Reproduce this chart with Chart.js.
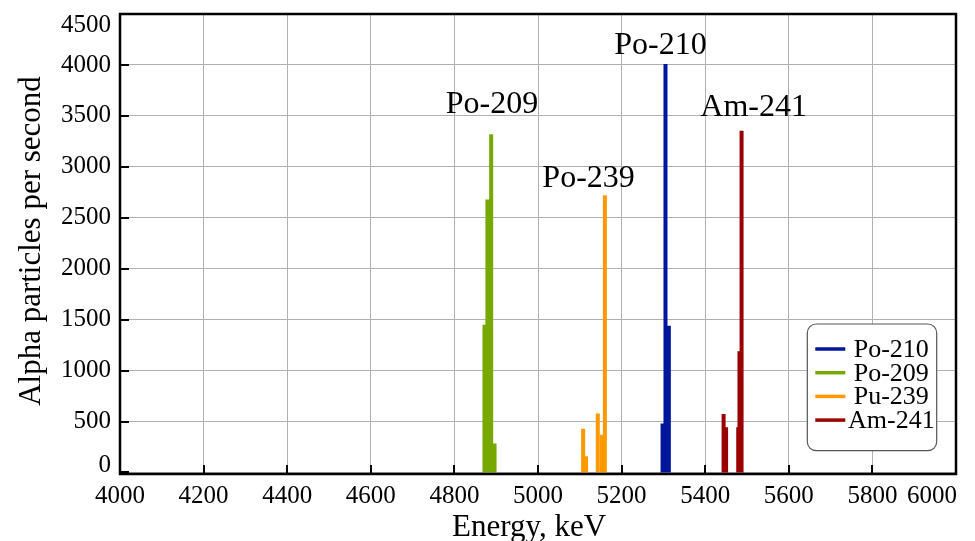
<!DOCTYPE html>
<html>
<head>
<meta charset="utf-8">
<script src="https://cdn.jsdelivr.net/npm/chart.js"></script>
<style>
  html, body { margin: 0; padding: 0; background: #fff; }
  #wrap { width: 975px; height: 541px; position: relative; }
</style>
</head>
<body>
<div id="wrap"><canvas id="spectrum" width="975" height="541"></canvas></div>
<script>
// Alpha spectrum
const energyTicks = [4000, 4200, 4400, 4600, 4800, 5000, 5200, 5400, 5600, 5800, 6000];
const rateTicks = [0, 500, 1000, 1500, 2000, 2500, 3000, 3500, 4000, 4500];

const isotopes = ['Po-210', 'Po-209', 'Pu-239', 'Am-241'];
const po210Energy = [5298, 5305, 5313];
const po210Rate = [480, 4010, 1440];
const po209Energy = [4872, 4879, 4888, 4896];
const po209Rate = [1450, 2680, 3320, 285];
const pu239Energy = [5108, 5115, 5143, 5153, 5160];
const pu239Rate = [430, 160, 580, 370, 2720];
const am241Energy = [5444, 5450, 5479, 5482, 5487];
const am241Rate = [575, 445, 445, 1190, 3355];

// peak annotations (data coords)
const peakLabels = ['Po-209', 'Po-239', 'Po-210', 'Am-241'];
const peakLabelEnergy = [4890, 5121, 5293, 5516];
const peakLabelRate = [3615, 2889, 4193, 3585];

const colors = ['#00169b', '#76a800', '#ff9900', '#990000'];
const SERIF = '"Liberation Serif", "Times New Roman", serif';

// each peak is a vertical stroke from 0 up to its rate
function stems(energy, rate) {
    const pts = [];
    energy.forEach((e, i) => {
        pts.push({ x: e, y: 0 }, { x: e, y: rate[i] }, { x: e, y: null });
    });
    return pts;
}

const series = [
    stems(po210Energy, po210Rate),
    stems(po209Energy, po209Rate),
    stems(pu239Energy, pu239Rate),
    stems(am241Energy, am241Rate)
];

const decor = {
    id: 'decor',
    afterDatasetsDraw(chart) {
        const ctx = chart.ctx;
        const a = chart.chartArea;
        const xs = chart.scales.x, ys = chart.scales.y;
        ctx.save();

        // frame
        ctx.strokeStyle = '#000';
        ctx.lineWidth = 2.5;
        ctx.strokeRect(a.left, a.top, a.right - a.left, a.bottom - a.top);

        // inward ticks
        ctx.lineWidth = 2;
        ctx.beginPath();
        energyTicks.forEach(v => {
            const x = Math.round(xs.getPixelForValue(v));
            ctx.moveTo(x, a.bottom); ctx.lineTo(x, a.bottom - 9);
        });
        rateTicks.forEach(v => {
            const y = Math.round(ys.getPixelForValue(v));
            ctx.moveTo(a.left, y); ctx.lineTo(a.left + 9, y);
        });
        ctx.stroke();

        // tick labels (kept inside the frame's extent like the original)
        ctx.fillStyle = '#000';
        ctx.font = '25px ' + SERIF;
        ctx.textAlign = 'right';
        ctx.textBaseline = 'middle';
        rateTicks.forEach(v => {
            let y = ys.getPixelForValue(v);
            y = Math.min(Math.max(y, a.top + 11), a.bottom - 9);
            ctx.fillText(String(v), a.left - 9, y);
        });
        ctx.textAlign = 'center';
        energyTicks.forEach(v => {
            const s = String(v);
            const w = ctx.measureText(s).width;
            let x = xs.getPixelForValue(v);
            x = Math.min(x, a.right + 1 - w / 2);
            ctx.fillText(s, x, a.bottom + 22);
        });

        // axis titles
        ctx.font = '31px ' + SERIF;
        ctx.fillText('Energy, keV', (a.left + a.right) / 2 - 9, a.bottom + 54);
        ctx.save();
        ctx.translate(a.left - 88, (a.top + a.bottom) / 2 - 3);
        ctx.rotate(-Math.PI / 2);
        ctx.fillText('Alpha particles per second', 0, 0);
        ctx.restore();

        // peak labels
        ctx.font = '32px ' + SERIF;
        peakLabels.forEach((t, i) => {
            ctx.fillText(t, xs.getPixelForValue(peakLabelEnergy[i]), ys.getPixelForValue(peakLabelRate[i]));
        });

        // legend
        const bx = a.right - 148.7, by = a.bottom - 150, bw = 129.4, bh = 126.7;
        ctx.beginPath();
        ctx.roundRect(bx, by, bw, bh, 9);
        ctx.fillStyle = '#fff';
        ctx.fill();
        ctx.strokeStyle = '#555';
        ctx.lineWidth = 1.2;
        ctx.stroke();
        ctx.font = '26px ' + SERIF;
        ctx.textAlign = 'center';
        isotopes.forEach((name, i) => {
            const y = by + 25 + i * 23.7;
            ctx.strokeStyle = colors[i];
            ctx.lineWidth = 3.5;
            ctx.beginPath();
            ctx.moveTo(bx + 8, y); ctx.lineTo(bx + 38, y);
            ctx.stroke();
            ctx.fillStyle = '#000';
            ctx.fillText(name, bx + 84, y + 1);
        });
        ctx.restore();
    }
};

new Chart(document.getElementById('spectrum'), {
    type: 'scatter',
    data: {
        datasets: isotopes.map((name, i) => ({
            label: name,
            data: series[i],
            showLine: true,
            spanGaps: false,
            borderColor: colors[i],
            backgroundColor: colors[i],
            borderWidth: 4,
            borderCapStyle: 'butt',
            pointRadius: 0,
            tension: 0
        }))
    },
    options: {
        responsive: false,
        animation: false,
        layout: { padding: { top: 14, right: 19, left: 0, bottom: 0 } },
        plugins: { legend: { display: false }, tooltip: { enabled: false } },
        scales: {
            x: {
                type: 'linear',
                min: 4000,
                max: 6000,
                afterBuildTicks: s => { s.ticks = energyTicks.map(v => ({ value: v })); },
                afterFit: s => { s.height = 67; },
                ticks: { display: false },
                grid: { color: '#b0b0b0', lineWidth: 1, drawTicks: false },
                border: { display: false }
            },
            y: {
                min: -15,
                max: 4500,
                afterBuildTicks: s => { s.ticks = rateTicks.map(v => ({ value: v })); },
                afterFit: s => { s.width = 120; },
                ticks: { display: false },
                grid: { color: '#b0b0b0', lineWidth: 1, drawTicks: false },
                border: { display: false }
            }
        }
    },
    plugins: [decor]
});
</script>
</body>
</html>
